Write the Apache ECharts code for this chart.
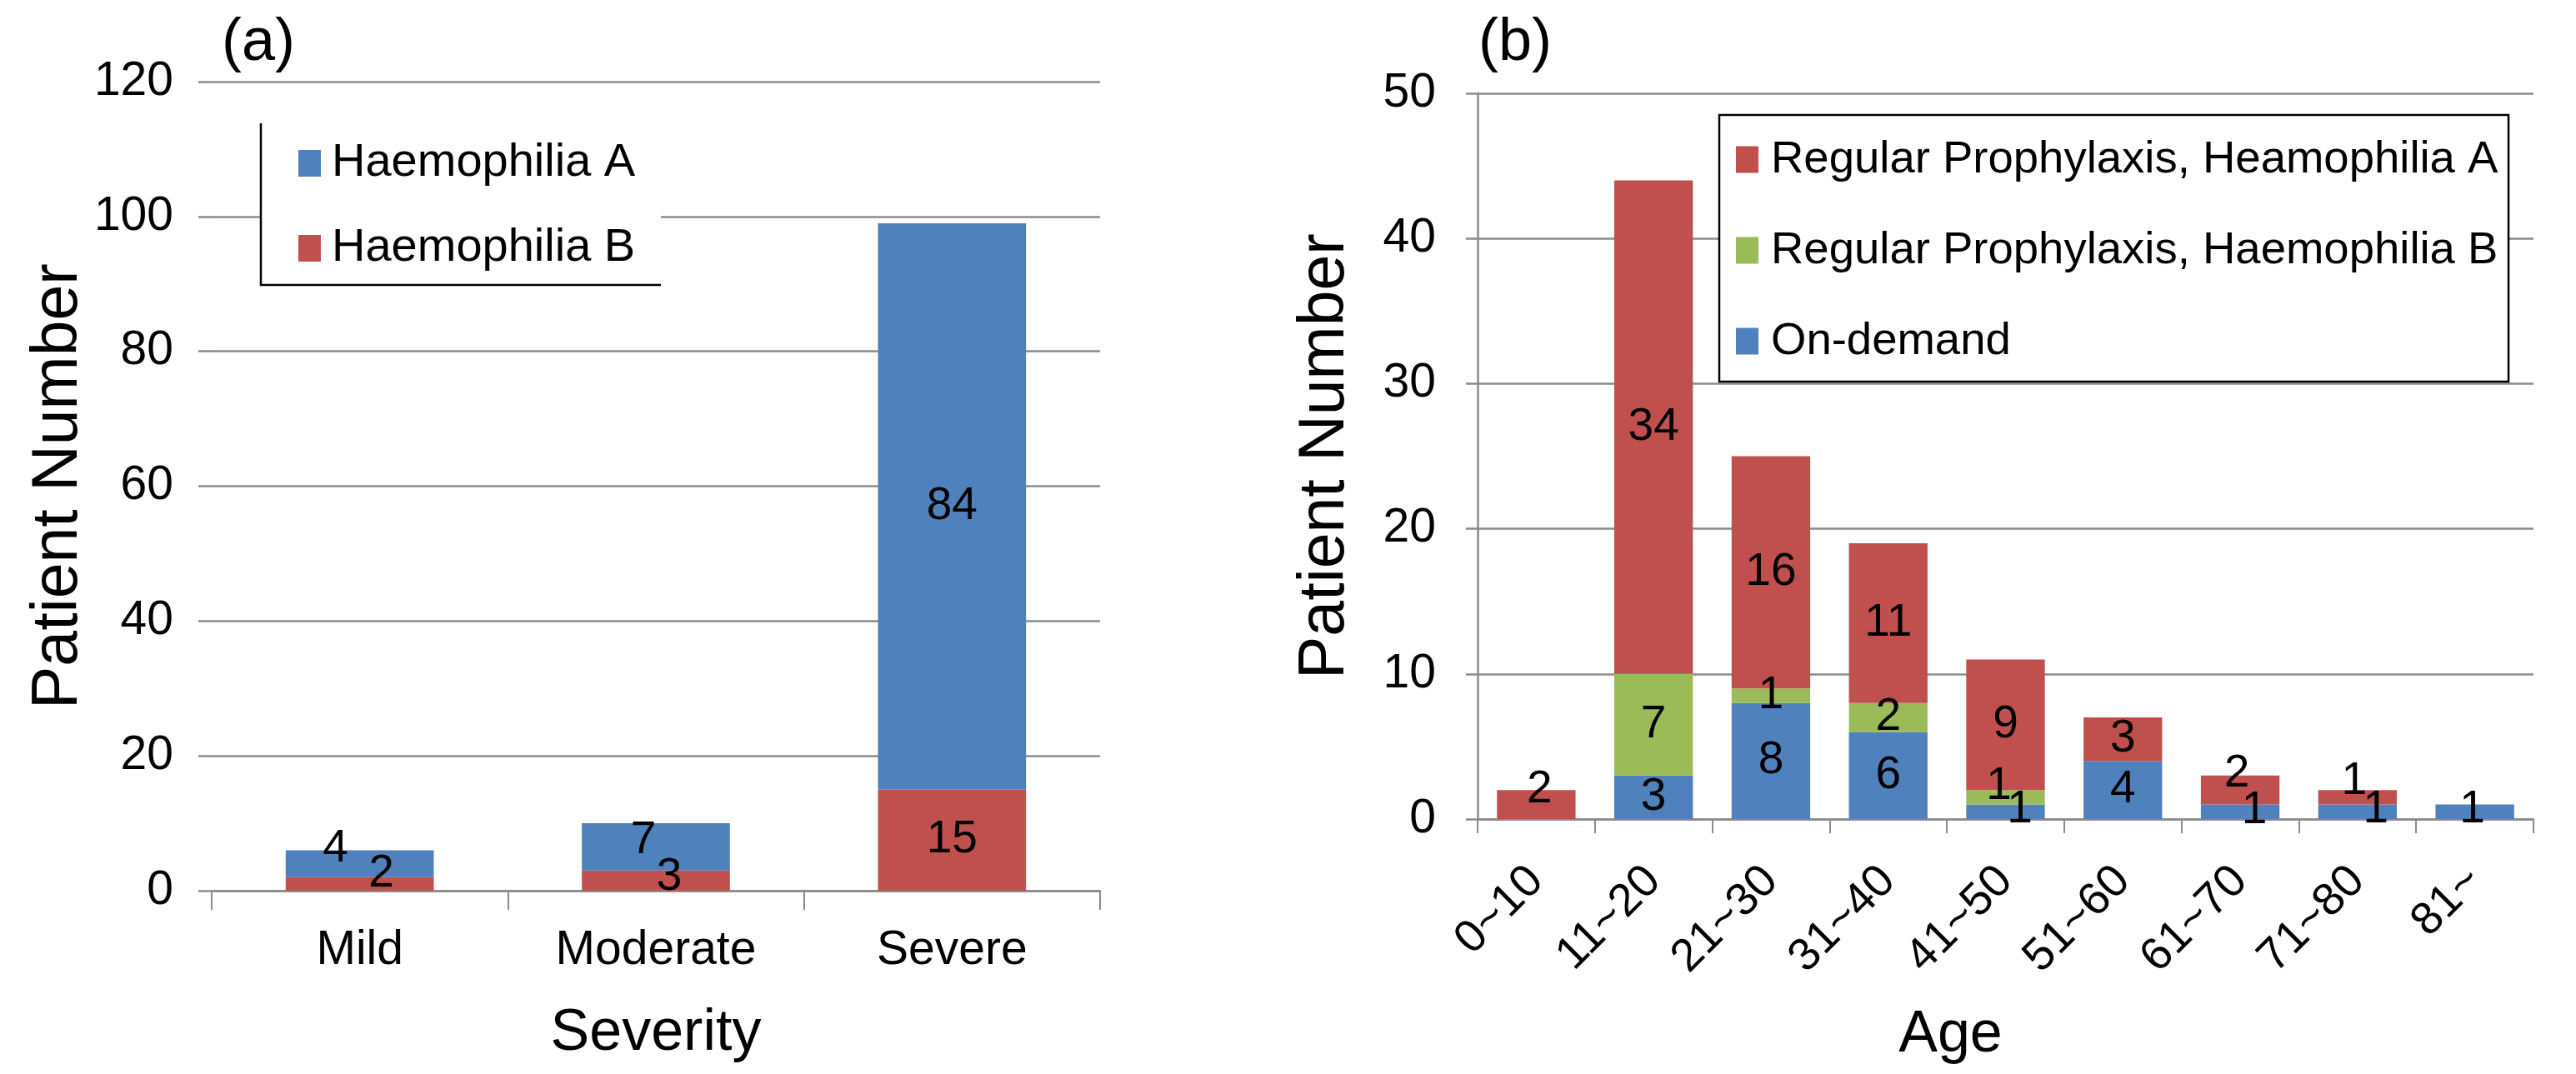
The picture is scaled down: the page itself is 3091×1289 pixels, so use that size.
<!DOCTYPE html>
<html>
<head>
<meta charset="utf-8">
<script src="https://cdn.jsdelivr.net/npm/echarts@6/dist/echarts.min.js"></script>
<style>
  html, body { margin: 0; padding: 0; background: #fff; }
  #chart { width: 3091px; height: 1289px; }
</style>
</head>
<body>
<div id="chart"></div>
<script>
// ---- data: panel (a) ----
const severityCategories = ['Mild', 'Moderate', 'Severe'];
const haemophiliaA = [4, 7, 84];
const haemophiliaB = [2, 3, 15];
const severityTicks = [0, 20, 40, 60, 80, 100, 120];

// ---- data: panel (b) ----
const ageCategories = ['0~10', '11~20', '21~30', '31~40', '41~50', '51~60', '61~70', '71~80', '81~'];
const onDemand      = [0, 3, 8, 6, 1, 4, 1, 1, 1];
const prophylaxisB  = [0, 7, 1, 2, 1, 0, 0, 0, 0];
const prophylaxisA  = [2, 34, 16, 11, 9, 3, 2, 1, 0];
const ageTicks = [0, 10, 20, 30, 40, 50];

// ---- style ----
const FONT = 'Liberation Sans, Arial, Helvetica, sans-serif';
const BLUE = '#4F81BD', RED = '#C0504D', GREEN = '#9BBB59';
const GRID_GREY = '#8c8c8c';

// label nudges (Excel-like label placement), style only
const nudge = {
  aA: [[-29, -18], [-15, -8], [0, 0]],
  aB: [[26, -12], [16, -4], [0, 0]],
  bD: [[0, 0], [0, 0], [0, 0], [0, 0], [17, -2], [0, 0], [17, -1], [22, -2], [-3, -2]],
  bB: [[0, 0], [0, 0], [0, 0], [0, 0], [-8, -13], [0, 0], [0, 0], [0, 0], [0, 0]],
  bA: [[4, -18], [0, 0], [0, 0], [0, 0], [0, 0], [0, 0], [-4, -19], [-4, -19], [0, 0]]
};

function withNudge(values, offs) {
  return values.map((v, i) => ({ value: v, label: { offset: offs[i] } }));
}
const labelCommon = {
  show: true,
  position: 'inside',
  color: '#000',
  fontFamily: FONT,
  fontSize: 55,
  formatter: p => (p.value ? String(p.value) : '')
};

const chart = echarts.init(document.getElementById('chart'), null, { renderer: 'canvas' });

const option = {
  animation: false,
  backgroundColor: '#fff',
  textStyle: { fontFamily: FONT },
  grid: [
    { left: 254, top: 98, width: 1066, height: 971 },
    { left: 1773, top: 112, width: 1267, height: 871 }
  ],
  xAxis: [
    {
      gridIndex: 0, type: 'category', data: severityCategories,
      name: 'Severity', nameLocation: 'middle', nameGap: 137,
      nameTextStyle: { fontSize: 70, color: '#000', fontFamily: FONT },
      axisLine: { show: true, lineStyle: { color: GRID_GREY, width: 2.5 } },
      axisTick: { show: true, length: 23, lineStyle: { color: GRID_GREY, width: 2 } },
      axisLabel: { fontSize: 57, color: '#000', margin: 44, fontFamily: FONT }
    },
    {
      gridIndex: 1, type: 'category', data: ageCategories,
      name: 'Age', nameLocation: 'middle', nameGap: 225,
      nameTextStyle: { fontSize: 70, color: '#000', fontFamily: FONT, padding: [0, 132, 0, 0] },
      axisLine: { show: true, lineStyle: { color: GRID_GREY, width: 2.5 } },
      axisTick: { show: true, length: 17, lineStyle: { color: GRID_GREY, width: 2 } },
      axisLabel: { fontSize: 55, color: '#000', margin: 66, rotate: 45, interval: 0, fontFamily: FONT }
    }
  ],
  yAxis: [
    {
      gridIndex: 0, type: 'value',
      min: severityTicks[0], max: severityTicks[severityTicks.length - 1],
      interval: severityTicks[1] - severityTicks[0],
      name: 'Patient Number', nameLocation: 'middle', nameGap: 134,
      nameTextStyle: { fontSize: 77, color: '#000', fontFamily: FONT },
      axisLine: { show: false },
      axisTick: { show: true, length: 16, lineStyle: { color: GRID_GREY, width: 2.5 } },
      axisLabel: { fontSize: 57, color: '#000', margin: 46, fontFamily: FONT },
      splitLine: { show: true, lineStyle: { color: GRID_GREY, width: 2.5 } }
    },
    {
      gridIndex: 1, type: 'value',
      min: ageTicks[0], max: ageTicks[ageTicks.length - 1],
      interval: ageTicks[1] - ageTicks[0],
      name: 'Patient Number', nameLocation: 'middle', nameGap: 144,
      nameTextStyle: { fontSize: 77, color: '#000', fontFamily: FONT },
      axisLine: { show: true, lineStyle: { color: GRID_GREY, width: 2.5 } },
      axisTick: { show: true, length: 14, lineStyle: { color: GRID_GREY, width: 2.5 } },
      axisLabel: { fontSize: 57, color: '#000', margin: 50, fontFamily: FONT },
      splitLine: { show: true, lineStyle: { color: GRID_GREY, width: 2.5 } }
    }
  ],
  legend: [
    {
      orient: 'vertical', left: 358, top: 168, padding: 0,
      itemWidth: 27, itemHeight: 32, itemGap: 46,
      data: ['Haemophilia A', 'Haemophilia B'],
      textStyle: { fontSize: 56, color: '#000', fontFamily: FONT, padding: [0, 0, 0, 8] },
      icon: 'rect'
    },
    {
      orient: 'vertical', left: 2083, top: 164, padding: 0,
      itemWidth: 27, itemHeight: 32, itemGap: 54,
      data: ['Regular Prophylaxis, Heamophilia A', 'Regular Prophylaxis, Haemophilia B', 'On-demand'],
      textStyle: { fontSize: 54.5, color: '#000', fontFamily: FONT, padding: [0, 0, 0, 10] },
      icon: 'rect'
    }
  ],
  graphic: [
    { type: 'rect', z: 1, shape: { x: 313, y: 148, width: 480, height: 194 }, style: { fill: '#fff', stroke: null } },
    { type: 'polyline', z: 1, shape: { points: [[313, 148], [313, 342], [793, 342]] }, style: { stroke: '#000', lineWidth: 2.5, fill: null } },
    { type: 'rect', z: 1, shape: { x: 2063, y: 138, width: 947, height: 320 }, style: { fill: '#fff', stroke: '#000', lineWidth: 2.5 } },
    { type: 'text', z: 5, x: 310, y: 52, style: { text: '(a)', fontSize: 72, fontFamily: FONT, fill: '#000', align: 'center', verticalAlign: 'middle' } },
    { type: 'text', z: 5, x: 1818, y: 52, style: { text: '(b)', fontSize: 72, fontFamily: FONT, fill: '#000', align: 'center', verticalAlign: 'middle' } }
  ],
  series: [
    {
      name: 'Haemophilia B', type: 'bar', stack: 'sev', xAxisIndex: 0, yAxisIndex: 0,
      barWidth: '50%', itemStyle: { color: RED },
      label: labelCommon, data: withNudge(haemophiliaB, nudge.aB)
    },
    {
      name: 'Haemophilia A', type: 'bar', stack: 'sev', xAxisIndex: 0, yAxisIndex: 0,
      barWidth: '50%', itemStyle: { color: BLUE },
      label: labelCommon, data: withNudge(haemophiliaA, nudge.aA)
    },
    {
      name: 'On-demand', type: 'bar', stack: 'age', xAxisIndex: 1, yAxisIndex: 1,
      barWidth: '67%', itemStyle: { color: BLUE },
      label: labelCommon, data: withNudge(onDemand, nudge.bD)
    },
    {
      name: 'Regular Prophylaxis, Haemophilia B', type: 'bar', stack: 'age', xAxisIndex: 1, yAxisIndex: 1,
      barWidth: '67%', itemStyle: { color: GREEN },
      label: labelCommon, data: withNudge(prophylaxisB, nudge.bB)
    },
    {
      name: 'Regular Prophylaxis, Heamophilia A', type: 'bar', stack: 'age', xAxisIndex: 1, yAxisIndex: 1,
      barWidth: '67%', itemStyle: { color: RED },
      label: labelCommon, data: withNudge(prophylaxisA, nudge.bA)
    }
  ]
};

chart.setOption(option);
</script>
</body>
</html>
